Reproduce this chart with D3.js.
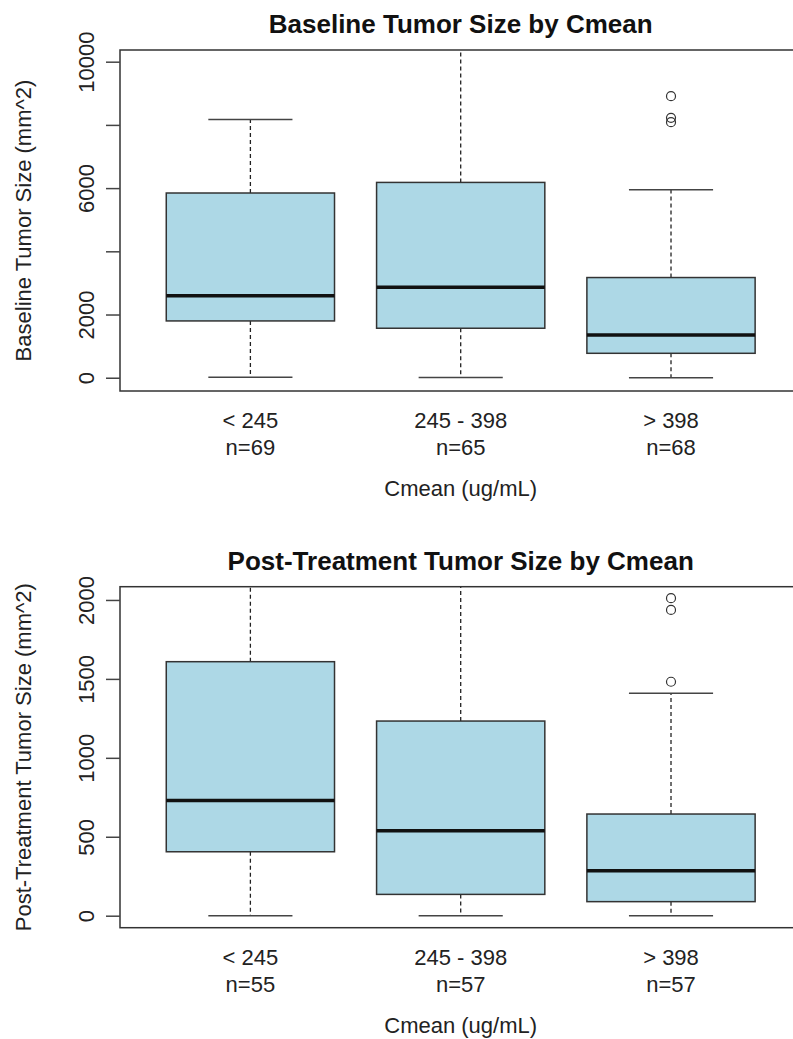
<!DOCTYPE html>
<html>
<head>
<meta charset="utf-8">
<script src="https://cdn.jsdelivr.net/npm/d3@7"></script>
<style>
  body { margin: 0; background: #fff; }
  text { font-family: "Liberation Sans", Arial, sans-serif; fill: #222; }
</style>
</head>
<body>
<svg id="chart" width="793" height="1039"></svg>
<script>
/* global d3 */
var groups = ["< 245", "245 - 398", "> 398"];

// baseline panel
var baseN = [69, 65, 68],
    baseLow = [15, 10, 0],
    baseQ1 = [1797, 1566, 773],
    baseMed = [2590, 2865, 1353],
    baseQ3 = [5845, 6180, 3170],
    baseHigh = [8168, 10900, 5949],
    baseOut = [[], [], [8909, 8225, 8085]],
    baseTicks = [0, 2000, 4000, 6000, 8000, 10000],
    baseTickLabels = [0, 2000, 6000, 10000];

// post-treatment panel
var postN = [55, 57, 57],
    postLow = [0, 0, 0],
    postQ1 = [405, 135, 89],
    postMed = [729, 538, 285],
    postQ3 = [1609, 1233, 644],
    postHigh = [2400, 2250, 1409],
    postOut = [[], [], [2011, 1937, 1482]],
    postTicks = [0, 500, 1000, 1500, 2000],
    postTickLabels = [0, 500, 1000, 1500, 2000];

var svg = d3.select("#chart");

function drawPanel(p) {
  var top = p.top, bottom = p.bottom, left = 120, right = 801.4;

  var x = d3.scaleLinear().domain([0.38, 3.62]).range([left, right]),
      y = d3.scaleLinear().domain(p.domain).range([bottom, top]);

  var g = svg.append("g");

  var clipId = "clip-" + p.id;
  g.append("clipPath").attr("id", clipId)
    .append("rect")
      .attr("x", left).attr("y", top)
      .attr("width", right - left).attr("height", bottom - top);

  var data = groups.map(function(name, i) {
    return {name: name, i: i + 1, n: p.n[i], low: p.low[i], q1: p.q1[i],
            med: p.med[i], q3: p.q3[i], high: p.high[i], out: p.out[i]};
  });

  var plot = g.append("g").attr("clip-path", "url(#" + clipId + ")");

  var box = plot.selectAll(".box")
    .data(data)
    .enter().append("g")
      .attr("class", "box");

  // whiskers
  box.append("line")
      .attr("x1", function(d) { return x(d.i); })
      .attr("x2", function(d) { return x(d.i); })
      .attr("y1", function(d) { return y(d.q3); })
      .attr("y2", function(d) { return y(d.high); })
      .attr("stroke", "#222").attr("stroke-width", 1.3)
      .attr("stroke-dasharray", "4,3");
  box.append("line")
      .attr("x1", function(d) { return x(d.i); })
      .attr("x2", function(d) { return x(d.i); })
      .attr("y1", function(d) { return y(d.q1); })
      .attr("y2", function(d) { return y(d.low); })
      .attr("stroke", "#222").attr("stroke-width", 1.3)
      .attr("stroke-dasharray", "4,3");

  // staples
  ["low", "high"].forEach(function(k) {
    box.append("line")
        .attr("x1", function(d) { return x(d.i - 0.2); })
        .attr("x2", function(d) { return x(d.i + 0.2); })
        .attr("y1", function(d) { return y(d[k]); })
        .attr("y2", function(d) { return y(d[k]); })
        .attr("stroke", "#444").attr("stroke-width", 1.5);
  });

  box.append("rect")
      .attr("x", function(d) { return x(d.i - 0.4); })
      .attr("y", function(d) { return y(d.q3); })
      .attr("width", x(1.4) - x(0.6))
      .attr("height", function(d) { return y(d.q1) - y(d.q3); })
      .attr("fill", "#add8e6")
      .attr("stroke", "#333").attr("stroke-width", 1.5);

  box.append("line")
      .attr("x1", function(d) { return x(d.i - 0.4); })
      .attr("x2", function(d) { return x(d.i + 0.4); })
      .attr("y1", function(d) { return y(d.med); })
      .attr("y2", function(d) { return y(d.med); })
      .attr("stroke", "#111").attr("stroke-width", 3.5);

  box.selectAll("circle")
    .data(function(d) { return d.out.map(function(v) { return {i: d.i, v: v}; }); })
    .enter().append("circle")
      .attr("cx", function(d) { return x(d.i); })
      .attr("cy", function(d) { return y(d.v); })
      .attr("r", 4.5)
      .attr("fill", "none")
      .attr("stroke", "#333").attr("stroke-width", 1.2);

  // frame
  g.append("rect")
      .attr("x", left).attr("y", top)
      .attr("width", right - left).attr("height", bottom - top)
      .attr("fill", "none")
      .attr("stroke", "#333").attr("stroke-width", 1.5);

  // y axis
  var yAxis = g.append("g")
      .attr("transform", "translate(" + left + ",0)")
      .call(d3.axisLeft(y).tickValues(p.ticks).tickSize(14).tickPadding(0)
        .tickFormat(function(v) { return p.tickLabels.indexOf(v) >= 0 ? v : ""; }));
  yAxis.select(".domain").remove();
  yAxis.selectAll(".tick line").attr("stroke", "#444").attr("stroke-width", 1.5);
  yAxis.selectAll(".tick text")
      .attr("x", null).attr("dy", null)
      .attr("text-anchor", "middle")
      .attr("transform", "translate(-34,0) rotate(-90)")
      .attr("dy", "0.35em")
      .style("font-size", "22px")
      .style("font-family", "Liberation Sans, Arial, sans-serif")
      .attr("fill", "#222");

  // x labels
  var xl = g.selectAll(".xlab")
    .data(data)
    .enter().append("text")
      .attr("class", "xlab")
      .attr("text-anchor", "middle")
      .style("font-size", "22px")
      .attr("x", function(d) { return x(d.i); })
      .attr("y", bottom + 37);
  xl.text(function(d) { return d.name; });
  g.selectAll(".nlab")
    .data(data)
    .enter().append("text")
      .attr("class", "nlab")
      .attr("text-anchor", "middle")
      .style("font-size", "22px")
      .attr("x", function(d) { return x(d.i); })
      .attr("y", bottom + 64)
      .text(function(d) { return "n=" + d.n; });

  g.append("text")
      .attr("text-anchor", "middle")
      .style("font-size", "22px")
      .attr("x", (left + right) / 2)
      .attr("y", bottom + 105)
      .text("Cmean (ug/mL)");

  g.append("text")
      .attr("text-anchor", "middle")
      .attr("transform", "translate(23," + ((top + bottom) / 2) + ") rotate(-90)")
      .attr("dy", "0.35em")
      .style("font-size", "22px")
      .text(p.ylab);

  g.append("text")
      .attr("text-anchor", "middle")
      .style("font-size", "26px")
      .style("font-weight", "bold")
      .style("fill", "#111")
      .attr("x", (left + right) / 2)
      .attr("y", top - 17)
      .text(p.title);
}

drawPanel({
  id: "base", top: 50, bottom: 391, domain: [-420, 10370],
  n: baseN, low: baseLow, q1: baseQ1, med: baseMed, q3: baseQ3, high: baseHigh, out: baseOut,
  ticks: baseTicks, tickLabels: baseTickLabels,
  title: "Baseline Tumor Size by Cmean",
  ylab: "Baseline Tumor Size (mm^2)"
});

drawPanel({
  id: "post", top: 586.7, bottom: 927.7, domain: [-76, 2084],
  n: postN, low: postLow, q1: postQ1, med: postMed, q3: postQ3, high: postHigh, out: postOut,
  ticks: postTicks, tickLabels: postTickLabels,
  title: "Post-Treatment Tumor Size by Cmean",
  ylab: "Post-Treatment Tumor Size (mm^2)"
});
</script>
</body>
</html>
